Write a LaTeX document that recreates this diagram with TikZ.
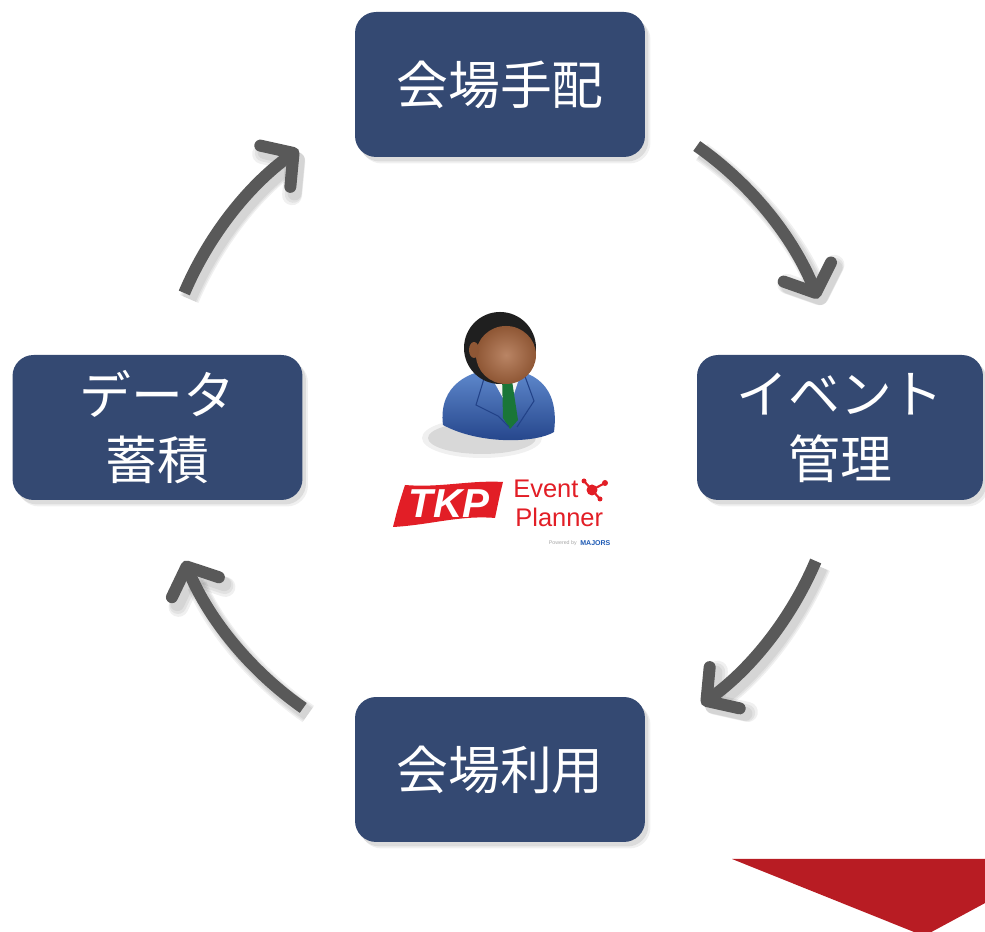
\documentclass[tikz,border=0pt]{standalone}
\usepackage{fontspec}
\setmainfont{Liberation Sans}
\newfontfamily\jpfont{Noto Sans CJK JP}
\usetikzlibrary{arrows.meta,calc,shadows}

\definecolor{boxblue}{RGB}{52,73,114}
\definecolor{arrowgray}{RGB}{89,89,89}
\definecolor{chevronred}{RGB}{184,28,35}
\definecolor{logored}{RGB}{226,30,38}
\definecolor{suitlight}{RGB}{96,138,206}
\definecolor{suitdark}{RGB}{34,66,136}
\definecolor{skin}{RGB}{168,102,62}
\definecolor{tiegreen}{RGB}{26,118,56}
\definecolor{majorsblue}{RGB}{30,90,180}

\begin{document}
\begin{tikzpicture}[x=0.02cm,y=0.02cm,
  stagebox/.style={rounded corners=0.42cm, fill=boxblue,
    minimum width=5.8cm, minimum height=2.9cm, text=white, align=center,
    font=\jpfont\fontsize{29.5}{37}\selectfont,
    drop shadow={shadow xshift=0.11cm, shadow yshift=-0.13cm, opacity=0.12},
    drop shadow={shadow xshift=0.07cm, shadow yshift=-0.09cm, opacity=0.18}},
  tipshape/.style={-{Straight Barb[length=0.45cm,width=1.02cm,round]}},
  cyclearrow/.style={tipshape, draw=arrowgray, line width=0.24cm},
  cycleshadow/.style={tipshape, draw=black, opacity=0.06}]

\useasboundingbox (0,0) rectangle (985,932);
\clip (0,0) rectangle (985,932);

% red chevron at the lower right
\fill[chevronred] (732,73) -- (1000,73) -- (1000,37) -- (924,-4) -- cycle;

% the four stages
\node[stagebox] (venue) at (500,847.5) {会場手配};
\node[stagebox] (data)  at (157.5,504.5) {データ\\蓄積};
\node[stagebox, minimum width=5.72cm] (event) at (840,504.5) {イベント\\管理};
\node[stagebox] (use)   at (500,162.5) {会場利用};

% curved arrows running clockwise round the centre, each with a soft shadow
\coordinate (ctr) at (500,505);
\foreach \i/\s/\e in {1/157/126, 2/55/22, 3/-23/-54, 4/-125/-157} {
  \coordinate (arrow\i start) at ($(ctr)+(\s:343)$);
  \foreach \w in {0.40,0.34,0.28} {
    \draw[cycleshadow, line width=\w cm] ($(arrow\i start)+(5,-6)$) arc[start angle=\s, end angle=\e, radius=343];
  }
  \draw[cyclearrow] (arrow\i start) arc[start angle=\s, end angle=\e, radius=343];
}

% planner figure
\fill[black, opacity=0.10] (482,494) ellipse [x radius=54, y radius=16];
\fill[black, opacity=0.06] (482,494) ellipse [x radius=60, y radius=20];
\shade[top color=suitlight, bottom color=suitdark]
  (443,507) .. controls (438,547) and (470,563) .. (500,563)
  .. controls (533,563) and (560,547) .. (554,500)
  .. controls (536,489) and (480,487) .. (443,507) -- cycle;
\fill[white!92!gray] (488,561) -- (522,562) -- (509,523) -- cycle;
\fill[tiegreen] (502,558) -- (511,558) -- (518,512) -- (510,503) -- (503,514) -- cycle;
\draw[suitdark, line width=0.6pt] (486,560) -- (476,527) -- (498,516) -- (509,505);
\draw[suitdark, line width=0.6pt] (523,561) -- (534,531) -- (517,505);
\fill[black!88] (500,584) circle [radius=36];
\shade[inner color=skin!80!white, outer color=skin!85!black] (506,577) ellipse [x radius=30, y radius=29];
\fill[skin!85!black] (474,582) ellipse [x radius=5, y radius=8];

% TKP Event Planner logo
\fill[logored] (393,405) .. controls (398,425) .. (405,447)
  .. controls (440,444) and (470,452) .. (503,450)
  .. controls (500,438) .. (495,414)
  .. controls (460,417) and (430,407) .. (393,405) -- cycle;
\node[text=white, font=\fontsize{23}{23}\selectfont\bfseries\itshape] (tkp) at (449,428) {TKP};
\node[text=logored, anchor=west, inner sep=0pt, font=\fontsize{14.5}{15}\selectfont] (evt) at (513,443) {Event};
\node[text=logored, anchor=west, inner sep=0pt, font=\fontsize{14.5}{15}\selectfont] (pln) at (515,415) {Planner};
\coordinate (mc) at (592,442);
\draw[logored, line width=1.2pt] (mc) -- (584,451) (mc) -- (605,449) (mc) -- (600,433);
\fill[logored] (mc) circle [radius=5.5];
\fill[logored] (584,451) circle [radius=2.5];
\fill[logored] (605,449) circle [radius=3];
\fill[logored] (600,433) circle [radius=2.5];
\node[text=gray!70, anchor=east, inner sep=0pt, font=\fontsize{3}{3}\selectfont] (pwr) at (577,389) {Powered by};
\node[text=majorsblue, anchor=west, inner sep=0pt, font=\fontsize{4}{4}\selectfont\bfseries] (mjr) at (580,389) {MAJORS};

\end{tikzpicture}
\end{document}
